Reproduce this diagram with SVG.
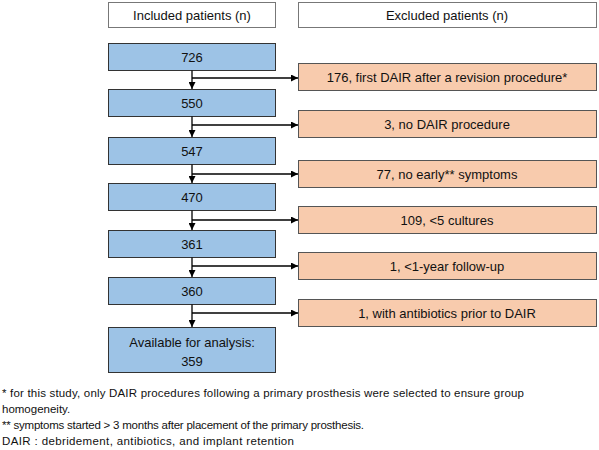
<svg xmlns="http://www.w3.org/2000/svg" width="599" height="450" viewBox="0 0 599 450">
<defs>
<marker id="ah" viewBox="0 0 10 10" refX="10" refY="5" markerWidth="7" markerHeight="7" markerUnits="userSpaceOnUse" orient="auto">
<path d="M0,0 L10,5 L0,10 Z" fill="#000"/>
</marker>
<style>
text{font-family:"Liberation Sans",Arial,sans-serif;font-size:13px;fill:#111;text-anchor:middle}
.hdr{fill:#fff;stroke:#777;stroke-width:1}
.inc{fill:#9DC3E6;stroke:#333;stroke-width:1}
.exc{fill:#F8CBAD;stroke:#555;stroke-width:1}
.c{fill:none;stroke:#000;stroke-width:1.3}
.fn{font-size:11.5px;text-anchor:start}
</style>
</defs>
<rect width="599" height="450" fill="#fff"/>
<g id="hdr-inc"><rect class="hdr" x="108.5" y="2.5" width="167" height="25"/><text x="192" y="19.5">Included patients (n)</text></g>
<g id="hdr-exc"><rect class="hdr" x="298.5" y="2.5" width="298" height="25"/><text x="447" y="19.5">Excluded patients (n)</text></g>

<g id="n726"><rect class="inc" x="108.5" y="43.5" width="167" height="27"/><text x="192" y="61.5">726</text></g>
<g id="n550"><rect class="inc" x="108.5" y="89.5" width="167" height="27"/><text x="192" y="107.5">550</text></g>
<g id="n547"><rect class="inc" x="108.5" y="137.5" width="167" height="27"/><text x="192" y="155.5">547</text></g>
<g id="n470"><rect class="inc" x="108.5" y="183.5" width="167" height="27"/><text x="192" y="201.5">470</text></g>
<g id="n361"><rect class="inc" x="108.5" y="230.5" width="167" height="27"/><text x="192" y="248.5">361</text></g>
<g id="n360"><rect class="inc" x="108.5" y="277.5" width="167" height="27"/><text x="192" y="295.5">360</text></g>
<g id="n359"><rect class="inc" x="108.5" y="327.5" width="167" height="45"/><text x="192" y="347">Available for analysis:</text><text x="192" y="366">359</text></g>

<g id="e1"><rect class="exc" x="298.5" y="63.5" width="298" height="27"/><text x="447" y="81.5">176, first DAIR after a revision procedure*</text></g>
<g id="e2"><rect class="exc" x="298.5" y="110.5" width="298" height="27"/><text x="447" y="128.5">3, no DAIR procedure</text></g>
<g id="e3"><rect class="exc" x="298.5" y="160.5" width="298" height="27"/><text x="447" y="178.5">77, no early** symptoms</text></g>
<g id="e4"><rect class="exc" x="298.5" y="206.5" width="298" height="27"/><text x="447" y="224.5">109, &lt;5 cultures</text></g>
<g id="e5"><rect class="exc" x="298.5" y="252.5" width="298" height="27"/><text x="447" y="270.5">1, &lt;1-year follow-up</text></g>
<g id="e6"><rect class="exc" x="298.5" y="299.5" width="298" height="27"/><text x="447" y="317.5">1, with antibiotics prior to DAIR</text></g>

<g id="connectors">
<path class="c" d="M192,70.5 V89" marker-end="url(#ah)"/>
<path class="c" d="M192,78 H298" marker-end="url(#ah)"/>
<path class="c" d="M192,116.5 V137" marker-end="url(#ah)"/>
<path class="c" d="M192,125 H298" marker-end="url(#ah)"/>
<path class="c" d="M192,164.5 V183" marker-end="url(#ah)"/>
<path class="c" d="M192,174 H298" marker-end="url(#ah)"/>
<path class="c" d="M192,210.5 V230" marker-end="url(#ah)"/>
<path class="c" d="M192,220 H298" marker-end="url(#ah)"/>
<path class="c" d="M192,257.5 V277" marker-end="url(#ah)"/>
<path class="c" d="M192,266 H298" marker-end="url(#ah)"/>
<path class="c" d="M192,304.5 V327" marker-end="url(#ah)"/>
<path class="c" d="M192,313 H298" marker-end="url(#ah)"/>
</g>

<g id="footnotes">
<text class="fn" x="2" y="397" textLength="522">* for this study, only DAIR procedures following a primary prosthesis were selected to ensure group</text>
<text class="fn" x="2" y="413">homogeneity.</text>
<text class="fn" x="2" y="429" textLength="362">** symptoms started &gt; 3 months after placement of the primary prosthesis.</text>
<text class="fn" x="2" y="445" textLength="292">DAIR : debridement, antibiotics, and implant retention</text>
</g>
</svg>
